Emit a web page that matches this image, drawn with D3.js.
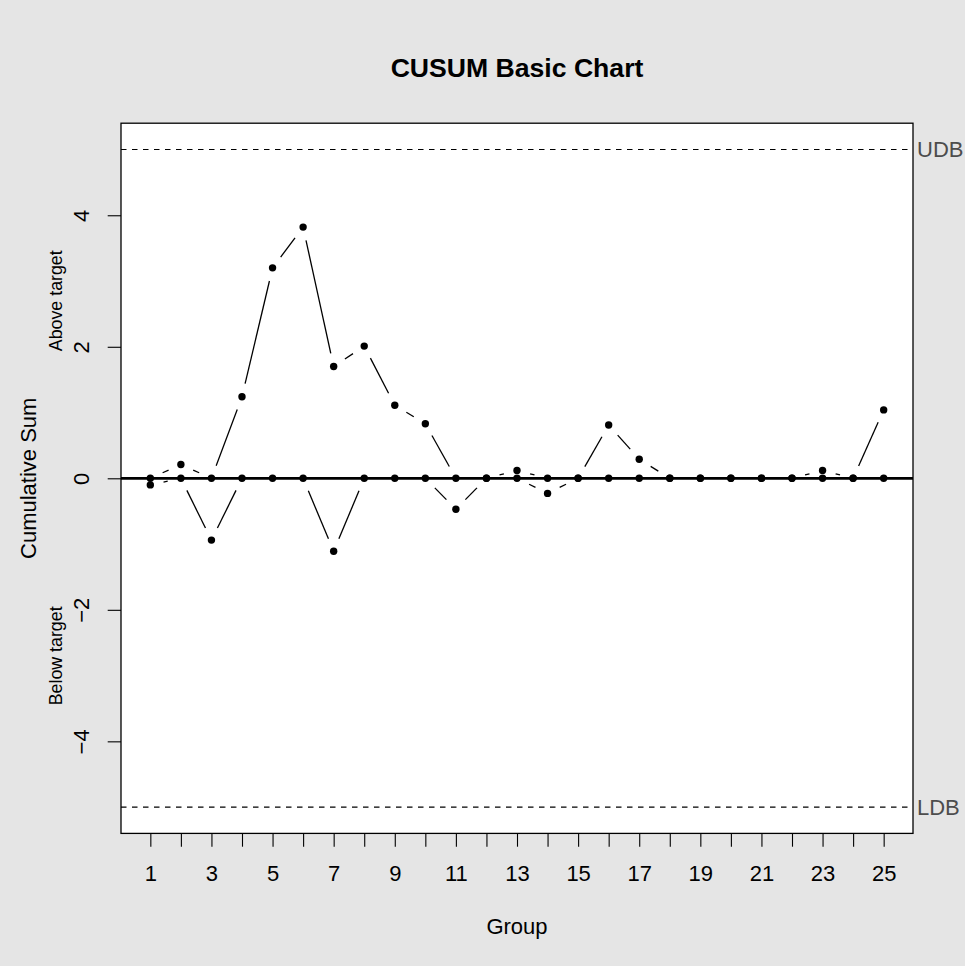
<!DOCTYPE html>
<html>
<head>
<meta charset="utf-8">
<script src="https://cdn.jsdelivr.net/npm/d3@7"></script>
<style>
  html, body { margin: 0; padding: 0; background: #e5e5e5; }
  svg { display: block; font-family: "Liberation Sans", Arial, Helvetica, sans-serif; }
</style>
</head>
<body>
<svg id="chart" width="965" height="966"></svg>
<script>
// Group numbers
const groups = d3.range(1, 26);
// Cumulative sum above target (upper statistic)
const above = [0, 0.21, 0, 1.24, 3.2, 3.82, 1.70, 2.01, 1.11, 0.83,
               0, 0, 0.12, 0, 0, 0.81, 0.29, 0, 0, 0,
               0, 0, 0.12, 0, 1.04];
// Cumulative sum below target (lower statistic)
const below = [-0.10, 0, -0.94, 0, 0, 0, -1.11, 0, 0, 0,
               -0.47, 0, 0, -0.23, 0, 0, 0, 0, 0, 0,
               0, 0, 0, 0, 0];
// Decision boundaries
const bounds = [{label: "UDB", value: 5}, {label: "LDB", value: -5}];
const yTicks = [-4, -2, 0, 2, 4];
const title = "CUSUM Basic Chart";

const W = 965, H = 966;
const plotL = 121, plotR = 913, plotT = 123.2, plotB = 833.4;
const lineH = 26.6; // one margin line of text

const svg = d3.select("#chart");
svg.append("rect").attr("width", W).attr("height", H).attr("fill", "#e5e5e5");

const x = d3.scaleLinear().domain([0.04, 25.96]).range([plotL, plotR]);
const y = d3.scaleLinear().domain([-5.4, 5.4]).range([plotB, plotT]);

// plotting region
svg.append("rect")
  .attr("x", plotL).attr("y", plotT)
  .attr("width", plotR - plotL).attr("height", plotB - plotT)
  .attr("fill", "#ffffff");

// decision boundaries
bounds.forEach(b => {
  svg.append("line")
    .attr("x1", plotL).attr("x2", plotR)
    .attr("y1", y(b.value)).attr("y2", y(b.value))
    .attr("stroke", "#000").attr("stroke-width", 1.1)
    .attr("stroke-dasharray", "5.5,5.5");
  svg.append("text")
    .attr("x", plotR + 4).attr("y", y(b.value))
    .attr("dy", "0.36em")
    .attr("font-size", 22).attr("fill", "#4d4d4d")
    .text(b.label);
});

// connecting segments with gaps around points (type "b")
const gap = 13.5;
function drawSeries(values) {
  const pts = values.map((v, i) => [x(groups[i]), y(v)]);
  const segs = d3.pairs(pts).map(([p0, p1]) => {
    const dx = p1[0] - p0[0], dy = p1[1] - p0[1];
    const L = Math.hypot(dx, dy);
    if (L <= 2 * gap) return null;
    const ux = dx / L, uy = dy / L;
    return [p0[0] + ux * gap, p0[1] + uy * gap, p1[0] - ux * gap, p1[1] - uy * gap];
  }).filter(s => s);
  svg.append("g").selectAll("line").data(segs).join("line")
    .attr("x1", d => d[0]).attr("y1", d => d[1])
    .attr("x2", d => d[2]).attr("y2", d => d[3])
    .attr("stroke", "#000").attr("stroke-width", 1.3);
  return pts;
}
const ptsA = drawSeries(above);
const ptsB = drawSeries(below);

// target line
svg.append("line")
  .attr("x1", plotL).attr("x2", plotR)
  .attr("y1", y(0)).attr("y2", y(0))
  .attr("stroke", "#000").attr("stroke-width", 2.7);

// points
svg.append("g").selectAll("circle").data(ptsA.concat(ptsB)).join("circle")
  .attr("cx", d => d[0]).attr("cy", d => d[1]).attr("r", 3.7)
  .attr("fill", "#000");

// frame
svg.append("rect")
  .attr("x", plotL).attr("y", plotT)
  .attr("width", plotR - plotL).attr("height", plotB - plotT)
  .attr("fill", "none").attr("stroke", "#000").attr("stroke-width", 1.3);

// x axis
const xAxis = d3.axisBottom(x)
  .tickValues(groups)
  .tickSize(lineH / 2)
  .tickPadding(0)
  .tickFormat(d => (d % 2 === 1 ? String(d) : ""));
const gx = svg.append("g").attr("transform", `translate(0,${plotB})`).call(xAxis);
gx.select(".domain").remove();
gx.selectAll(".tick line").attr("stroke", "#000").attr("stroke-width", 1.1);
gx.selectAll(".tick text")
  .attr("y", 1.8 * lineH).attr("dy", 0)
  .attr("font-size", 22).attr("fill", "#000")
  .attr("font-family", "Liberation Sans, Arial, sans-serif");

// y axis with labels parallel to the axis
const yAxis = d3.axisLeft(y).tickValues(yTicks).tickSize(lineH / 2)
  .tickFormat(d => (d < 0 ? "\u2212" + Math.abs(d) : String(d)));
const gy = svg.append("g").attr("transform", `translate(${plotL},0)`).call(yAxis);
gy.select(".domain").remove();
gy.selectAll(".tick line").attr("stroke", "#000").attr("stroke-width", 1.1);
gy.selectAll(".tick text")
  .attr("transform", "rotate(-90)")
  .attr("x", 0).attr("y", -1.2 * lineH).attr("dy", 0)
  .attr("text-anchor", "middle")
  .attr("font-size", 22).attr("fill", "#000")
  .attr("font-family", "Liberation Sans, Arial, sans-serif");

// axis titles
svg.append("text")
  .attr("transform", `translate(${plotL - 3.2 * lineH},${y(0)}) rotate(-90)`)
  .attr("text-anchor", "middle").attr("font-size", 22)
  .text("Cumulative Sum");
svg.append("text")
  .attr("transform", `translate(62,${y(2.7)}) rotate(-90)`)
  .attr("text-anchor", "middle").attr("font-size", 17.8)
  .text("Above target");
svg.append("text")
  .attr("transform", `translate(62,${y(-2.7)}) rotate(-90)`)
  .attr("text-anchor", "middle").attr("font-size", 17.8)
  .text("Below target");
svg.append("text")
  .attr("x", (plotL + plotR) / 2).attr("y", plotB + 3.8 * lineH)
  .attr("text-anchor", "middle").attr("font-size", 22)
  .text("Group");

// title
svg.append("text")
  .attr("x", (plotL + plotR) / 2).attr("y", 77)
  .attr("text-anchor", "middle").attr("font-size", 26.6)
  .attr("font-weight", "bold")
  .text(title);
</script>
</body>
</html>
